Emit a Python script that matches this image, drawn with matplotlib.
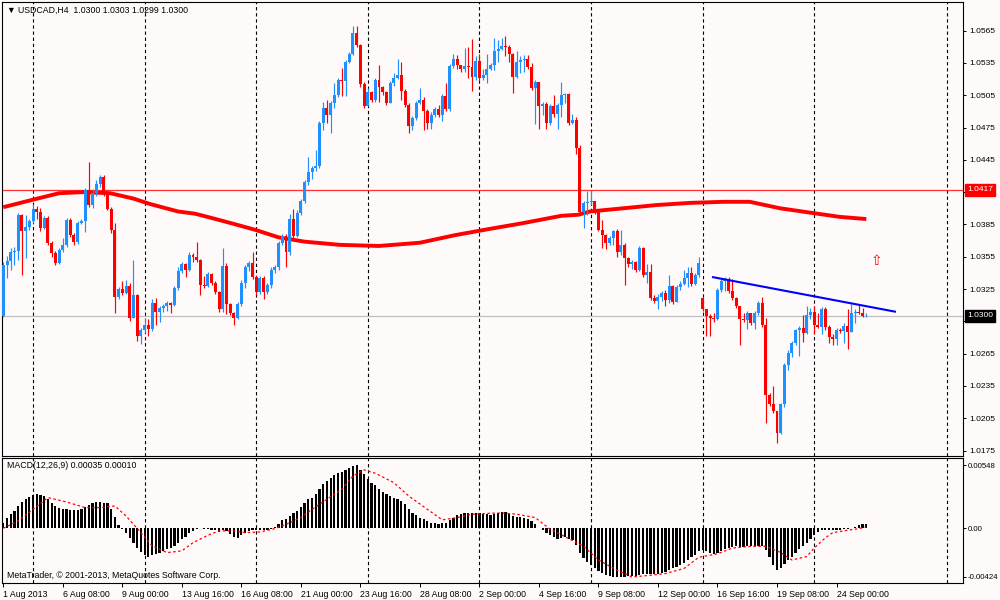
import matplotlib.pyplot as plt
import matplotlib.transforms as mtransforms
import numpy as np

# USDCAD H4, MetaTrader style chart: candles + moving average, MACD below
# prices are kept in pips above 1.0000 (347 -> 1.0347), one value per H4 bar

first_open = 300
gap_open = {188: 317}   # Monday 16 Sep opened with a gap

close_pips = [
    347, 351, 359, 360, 394, 379, 383, 388, 399, 397,
    382, 391, 368, 358, 349, 361, 366, 389, 375, 369,
    386, 388, 417, 403, 414, 423, 429, 413, 399, 380,
    318, 325, 321, 328, 298, 319, 281, 287, 292, 288,
    312, 304, 307, 309, 312, 310, 326, 342, 348, 343,
    357, 355, 352, 329, 328, 339, 331, 322, 306, 346,
    311, 303, 298, 311, 331, 345, 349, 336, 322, 335,
    322, 329, 343, 345, 368, 374, 359, 390, 374, 396,
    407, 424, 434, 437, 439, 479, 493, 487, 498, 505,
    519, 518, 536, 543, 563, 552, 515, 495, 508, 501,
    519, 513, 508, 498, 516, 521, 524, 509, 496, 476,
    484, 498, 501, 490, 479, 487, 492, 487, 504, 492,
    532, 539, 533, 529, 532, 531, 522, 537, 521, 524,
    529, 533, 546, 548, 551, 550, 543, 522, 536, 538,
    539, 531, 512, 517, 495, 497, 479, 495, 488, 496,
    505, 506, 479, 482, 456, 397, 405, 406, 407, 397,
    380, 375, 368, 372, 379, 359, 366, 354, 348, 350,
    343, 363, 338, 341, 317, 314, 318, 321, 315, 328,
    313, 327, 330, 335, 340, 330, 338, 349, 306, 300,
    298, 297, 324, 332, 334, 323, 317, 309, 297, 296,
    303, 293, 303, 312, 292, 227, 218, 212, 191, 218,
    254, 266, 275, 287, 289, 284, 301, 304, 292, 290,
    306, 290, 280, 279, 287, 286, 291, 285, 303, 304,
    303, 300, 300]

high_pips = [
    350, 356, 363, 364, 396, 395, 394, 390, 404, 402,
    400, 393, 393, 370, 360, 363, 372, 391, 391, 377,
    388, 390, 419, 443, 418, 426, 431, 431, 417, 401,
    386, 327, 332, 333, 331, 352, 320, 289, 298, 297,
    316, 317, 309, 311, 314, 313, 328, 345, 350, 349,
    359, 358, 369, 353, 337, 341, 340, 332, 323, 363,
    349, 312, 304, 313, 333, 347, 351, 359, 338, 337,
    337, 331, 345, 347, 370, 376, 376, 395, 399, 398,
    409, 426, 448, 439, 454, 481, 499, 501, 500, 516,
    521, 530, 538, 545, 569, 569, 553, 517, 512, 509,
    521, 533, 514, 509, 518, 526, 539, 536, 511, 498,
    486, 500, 512, 503, 492, 489, 494, 496, 506, 516,
    534, 543, 542, 533, 549, 550, 557, 541, 543, 529,
    543, 535, 558, 556, 558, 560, 552, 544, 546, 541,
    542, 542, 535, 519, 517, 499, 499, 497, 505, 498,
    517, 507, 507, 488, 485, 459, 407, 416, 417, 407,
    397, 389, 376, 374, 380, 381, 380, 368, 355, 352,
    351, 365, 364, 348, 348, 319, 320, 323, 324, 338,
    329, 329, 332, 343, 345, 345, 340, 355, 318, 306,
    302, 303, 326, 335, 336, 336, 334, 318, 309, 303,
    305, 303, 305, 314, 318, 298, 228, 235, 212, 219,
    256, 268, 277, 288, 291, 301, 309, 307, 309, 303,
    308, 308, 292, 283, 289, 289, 293, 306, 311, 306,
    310, 307, 303]

low_pips = [
    299, 335, 343, 347, 352, 338, 354, 380, 386, 390,
    379, 381, 366, 355, 347, 348, 359, 364, 373, 366,
    367, 385, 378, 401, 400, 411, 420, 411, 398, 377,
    303, 316, 319, 320, 295, 298, 277, 274, 284, 281,
    286, 292, 294, 304, 305, 303, 309, 324, 340, 336,
    342, 350, 350, 319, 326, 327, 329, 320, 304, 304,
    302, 301, 292, 297, 309, 326, 342, 334, 319, 320,
    316, 320, 326, 340, 343, 366, 345, 357, 372, 373,
    394, 405, 422, 427, 435, 437, 473, 479, 470, 493,
    503, 504, 504, 535, 542, 550, 513, 493, 495, 499,
    499, 499, 505, 496, 498, 514, 520, 501, 494, 470,
    473, 482, 497, 473, 474, 474, 485, 485, 481, 490,
    490, 530, 529, 527, 527, 521, 509, 519, 518, 519,
    516, 528, 528, 536, 547, 541, 536, 507, 521, 526,
    527, 529, 510, 478, 474, 487, 474, 477, 485, 474,
    485, 498, 477, 478, 450, 395, 382, 394, 403, 395,
    379, 363, 362, 366, 366, 355, 357, 329, 345, 344,
    341, 342, 336, 331, 315, 312, 306, 314, 309, 312,
    311, 313, 324, 329, 327, 328, 329, 336, 305, 281,
    281, 294, 296, 322, 323, 321, 315, 307, 273, 294,
    288, 292, 288, 301, 290, 201, 216, 210, 182, 190,
    215, 250, 262, 273, 263, 276, 283, 297, 283, 289,
    283, 287, 275, 273, 273, 284, 275, 269, 285, 293,
    302, 299, 299]

# thick red moving average, read at a few bars
ma_bars = [0, 8, 15, 21.5, 28.7, 35, 39.4, 47, 51.5, 56, 61.4, 67.7, 74, 81,
           90.5, 101, 112, 121.4, 131, 139.4, 150, 154.6, 157.7, 166.7, 175.6,
           184.6, 193.5, 200.7, 208.8, 216.8, 224.9, 232]
ma_prices = [1.0401, 1.0408, 1.0414, 1.0415, 1.0414, 1.0409, 1.0404, 1.0397,
             1.0395, 1.0391, 1.0386, 1.0380, 1.0373, 1.0369, 1.0366, 1.0365,
             1.0368, 1.0375, 1.0381, 1.0386, 1.0393, 1.0394, 1.0397, 1.0400,
             1.0403, 1.0405, 1.0406, 1.0406, 1.0400, 1.0396, 1.0392, 1.0390]

# blue trend line
trend_bars = [190.8, 239.7]
trend_prices = [1.0336, 1.0304]

# MACD(12,26,9) histogram, in units of 0.00001
macd_hist = [
    43, 93, 128, 151, 194, 229, 252, 273, 287, 296,
    287, 281, 258, 223, 194, 180, 171, 165, 160, 160,
    160, 171, 186, 200, 217, 229, 229, 223, 217, 171,
    101, 26, -9, -38, -81, -125, -168, -206, -235, -246,
    -235, -223, -212, -197, -183, -168, -154, -125, -96, -73,
    -44, -23, -3, 3, -3, -9, -15, -17, -32, -17,
    -23, -52, -73, -81, -61, -38, -23, -17, -15, -17,
    -17, -15, -3, 14, 34, 69, 84, 107, 136, 151,
    188, 223, 252, 267, 296, 339, 383, 412, 441, 461,
    479, 493, 508, 528, 540, 548, 508, 470, 432, 397,
    374, 345, 316, 296, 281, 267, 258, 238, 209, 165,
    131, 113, 93, 78, 64, 49, 43, 40, 43, 49,
    73, 93, 113, 128, 136, 136, 131, 136, 131, 122,
    122, 119, 128, 136, 140, 140, 122, 107, 101, 98,
    93, 78, 64, 35, 6, -15, -38, -61, -73, -91,
    -81, -73, -91, -103, -142, -216, -261, -290, -320, -349,
    -370, -388, -409, -418, -424, -424, -424, -420, -418, -418,
    -412, -403, -400, -400, -400, -400, -394, -388, -380, -365,
    -350, -335, -320, -300, -276, -252, -231, -202, -187, -202,
    -216, -222, -216, -202, -181, -172, -163, -157, -163, -163,
    -157, -157, -157, -151, -157, -187, -246, -320, -359, -350,
    -311, -276, -246, -211, -181, -157, -127, -92, -62, -33,
    -18, -15, -15, -15, -15, -12, -9, -3, 6, 14,
    26, 34, 35]

signal_bars = [0, 4, 8, 12, 17, 22, 26, 30, 33, 37, 40, 44, 48, 51, 55, 58, 62,
               65, 69, 73, 76, 80, 83, 87, 91, 94, 97, 100, 105, 109, 114, 118,
               122, 126, 131, 134, 138, 143, 147, 151, 156, 160, 165, 169, 174,
               178, 183, 187, 192, 196, 201, 205, 209, 212, 216, 218, 221, 223,
               227, 230, 232]
signal_vals = [0, 64, 165, 267, 229, 180, 180, 194, 107, -38, -154, -212, -197,
               -125, -61, -23, -23, -38, -32, -3, 34, 93, 165, 252, 339, 455, 508,
               479, 397, 281, 165, 73, 93, 122, 131, 133, 122, 93, -9, -73, -157,
               -276, -365, -424, -409, -394, -350, -252, -222, -172, -157, -157,
               -211, -276, -246, -172, -83, -38, -17, -3, 10]

# x axis labels (bar index -> text), weekly grid lines (Mondays 00:00)
label_bars = [0, 16, 32, 48, 64, 80, 96, 112, 128, 144, 160, 176, 192, 208, 224]
label_text = ['1 Aug 2013', '6 Aug 08:00', '9 Aug 00:00', '13 Aug 16:00',
              '16 Aug 08:00', '21 Aug 00:00', '23 Aug 16:00', '28 Aug 08:00',
              '2 Sep 00:00', '4 Sep 16:00', '9 Sep 08:00', '12 Sep 00:00',
              '16 Sep 16:00', '19 Sep 08:00', '24 Sep 00:00']
grid_bars = [8, 38, 68, 98, 128, 158, 188, 218, 253.7]

price_ticks = [1.0565, 1.0535, 1.0505, 1.0475, 1.0445, 1.0415, 1.0385, 1.0355,
               1.0325, 1.0295, 1.0265, 1.0235, 1.0205, 1.0175]
hidden_ticks = [1.0415, 1.0295]   # covered by the price boxes
red_level = 1.0417
bid_level = 1.0300

# ---- build OHLC arrays
close = 1 + np.array(close_pips) / 1e4
high = 1 + np.array(high_pips) / 1e4
low = 1 + np.array(low_pips) / 1e4
open_p = [first_open] + close_pips[:-1]
for k, v in gap_open.items():
    open_p[k] = v
opn = 1 + np.array(open_p) / 1e4
bars = np.arange(len(close))
up = close >= opn
colors = np.where(up, '#1E90FF', '#FF0000')

bg = '#FFFAFA'
plt.rcParams['font.family'] = ['Liberation Sans', 'DejaVu Sans']
fig = plt.figure(figsize=(10, 6), dpi=100, facecolor=bg)

def fy(py):
    return 1 - py / 600

ax = fig.add_axes([0.002, fy(456), 0.961, 454 / 600], facecolor=bg)
mx = fig.add_axes([0.002, fy(583.3), 0.961, 125 / 600], facecolor=bg)

# candles
ax.vlines(bars, low, high, colors=colors, lw=0.85, zorder=3)
body = np.maximum(np.abs(close - opn), 0.00003)
ax.bar(bars, body, bottom=np.minimum(opn, close), width=0.8, color=colors,
       linewidth=0, zorder=3)

ax.plot(ma_bars, ma_prices, color='#FF0000', lw=2.8, zorder=2,
        solid_capstyle='butt')
ax.plot(trend_bars, trend_prices, color='#0000FF', lw=1.5, zorder=4)
ax.axhline(red_level, color='#FF3030', lw=0.9, zorder=1)
ax.axhline(bid_level, color='#C0C0C0', lw=0.9, zorder=1)
ax.text(234.6, 1.0351, '\u21e7', color='#FF0000', fontsize=10, ha='center',
        va='center', zorder=5, family=['DejaVu Sans'])

# MACD
mx.bar(bars, np.array(macd_hist) * 1e-5, width=0.6, color='black', linewidth=0)
mx.plot(signal_bars, np.array(signal_vals) * 1e-5, color='#FF0000', lw=0.9,
        linestyle=(0, (2, 2)))

for a in (ax, mx):
    a.set_xlim(-0.35, 258.0)
    for g in grid_bars:
        a.axvline(g, color='black', lw=0.8, linestyle=(0, (3, 2.5)), zorder=0)
    for s in a.spines.values():
        s.set_color('black')
        s.set_linewidth(0.8)
    a.yaxis.tick_right()
    a.tick_params(axis='y', direction='out', length=2.5, width=0.7, pad=2,
                  labelsize=6, colors='black')

ax.set_ylim(1.01699, 1.05916)
ax.set_yticks(price_ticks)
ax.set_yticklabels(['' if p in hidden_ticks else '%.4f' % p for p in price_ticks])
ax.set_xticks([])

mx.set_ylim(-0.00479, 0.00609)
mx.set_yticks([0.00548, 0.0, -0.00424])
mx.set_yticklabels(['0.00548', '0.00', '-0.00424'])
mx.tick_params(axis='y', length=2, pad=1.2, labelsize=5.6)
mx.set_xticks(label_bars)
mx.set_xticklabels(label_text)
mx.tick_params(axis='x', direction='out', length=3, width=0.7, pad=2,
               labelsize=6.3)
for lbl in mx.get_xticklabels():
    lbl.set_horizontalalignment('left')

# price boxes on the right axis
trans = mtransforms.blended_transform_factory(ax.transAxes, ax.transData)
ax.text(1.004, red_level, '%.4f' % red_level, transform=trans, ha='left',
        va='center', fontsize=6, color='white', zorder=6,
        bbox=dict(boxstyle='square,pad=0.25', fc='#FF0000', ec='#FF0000'))
ax.text(1.004, bid_level, '%.4f' % bid_level, transform=trans, ha='left',
        va='center', fontsize=6, color='white', zorder=6,
        bbox=dict(boxstyle='square,pad=0.25', fc='black', ec='black'))

# texts
fig.text(0.007, fy(10), '\u25bc USDCAD,H4  1.0300 1.0303 1.0299 1.0300',
         fontsize=6.3, va='center', ha='left')
fig.text(0.007, fy(466), 'MACD(12,26,9) 0.00035 0.00010', fontsize=6.3,
         va='center', ha='left')
fig.text(0.007, fy(576), 'MetaTrader, \u00a9 2001-2013, MetaQuotes Software Corp.',
         fontsize=6.3, va='center', ha='left')

plt.savefig('out.png', dpi=100, facecolor=bg)
